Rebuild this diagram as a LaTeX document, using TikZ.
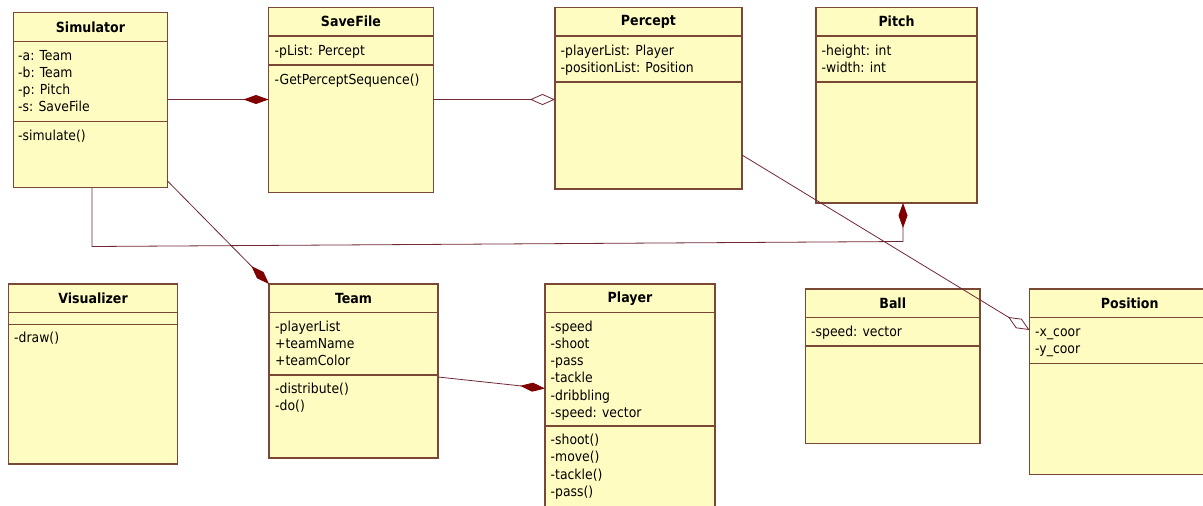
\documentclass[tikz,border=0pt]{standalone}
\usepackage{fontspec}
\setmainfont{DejaVu Sans Condensed}
\usetikzlibrary{arrows.meta}

\definecolor{classfill}{RGB}{255,252,194}
\definecolor{classline}{RGB}{122,72,52}
\definecolor{linkline}{RGB}{112,40,52}
\definecolor{diamondred}{RGB}{128,0,0}

\tikzset{
  classbox/.style={draw=classline, fill=classfill, line width=1.2pt,
    inner sep=0pt, outer sep=0pt, anchor=north west},
  divline/.style={draw=classline, line width=1.2pt},
  titletext/.style={font=\fontsize{14}{16}\selectfont\bfseries, inner sep=0pt},
  membertext/.style={font=\fontsize{13.8}{16}\selectfont, anchor=base west, inner sep=0pt},
  link/.style={draw=linkline, line width=0.8pt},
  composition/.style={link,
    -{Diamond[length=25pt,width=9pt,color=diamondred,fill=diamondred]}},
  aggregation/.style={link,
    -{Diamond[length=25pt,width=11pt,color=linkline,fill=white]}},
}

% class box: name, left, top, right, bottom, first divider, second divider, title
\newcommand{\umlclass}[8]{%
  \node[classbox, minimum width={#4-#2}, minimum height={#5-#3}] (#1) at (#2,#3) {};
  \draw[divline] (#1.west |- 0,#6) -- (#1.east |- 0,#6);
  \draw[divline] (#1.west |- 0,#7) -- (#1.east |- 0,#7);
  \node[titletext] (#1-title) at ({(#2+#4)/2},{(#3+#6)/2}) {#8};
}
% compartment lines: name prefix, x, baseline of first line, list of entries
\newcommand{\umlmembers}[4]{%
  \foreach \entry [count=\k] in {#4} {
    \node[membertext] (#1\k) at (#2,{#3+(\k-1)*17.3}) {\entry};
  }
}

\begin{document}
\begin{tikzpicture}[x=1pt,y=-1pt]
  \clip (0,0) rectangle (1203,506);
  \fill[white] (0,0) rectangle (1203,506);

  % classes
  \umlclass{sim}{13.5}{12.5}{167.5}{187.5}{41.5}{121.5}{Simulator}
  \umlmembers{sim-a}{18}{60}{-a: Team,-b: Team,-p: Pitch,-s: SaveFile}
  \umlmembers{sim-m}{18}{140}{-simulate()}

  \umlclass{save}{268.5}{7.5}{433.5}{192.5}{36}{65}{SaveFile}
  \umlmembers{save-a}{274.5}{55}{-pList: Percept}
  \umlmembers{save-m}{274.5}{84}{-GetPerceptSequence()}

  \umlclass{perc}{555}{7.5}{742}{189}{36}{82}{Percept}
  \umlmembers{perc-a}{560.5}{55}{-playerList: Player,-positionList: Position}

  \umlclass{pitch}{816}{7.5}{977}{203}{36}{82}{Pitch}
  \umlmembers{pitch-a}{821.5}{55}{-height: int,-width: int}

  \umlclass{vis}{8.5}{284}{177.5}{464}{312.5}{324.5}{Visualizer}
  \umlmembers{vis-m}{14}{342.5}{-draw()}

  \umlclass{team}{269}{284}{438}{458}{312.5}{375}{Team}
  \umlmembers{team-a}{275}{331}{-playerList,+teamName,+teamColor}
  \umlmembers{team-m}{275}{393.5}{-distribute(),-do()}

  \umlclass{player}{545}{284}{715}{530}{312.5}{426}{Player}
  \umlmembers{player-a}{550.5}{331}{-speed,-shoot,-pass,-tackle,-dribbling,-speed: vector}
  \umlmembers{player-m}{550.5}{444.5}{-shoot(),-move(),-tackle(),-pass()}

  \umlclass{ball}{805.5}{289}{980}{443.5}{317.5}{346}{Ball}
  \umlmembers{ball-a}{811}{336.5}{-speed: vector}

  \umlclass{pos}{1029.5}{289}{1230}{474.5}{317.5}{363.5}{Position}
  \umlmembers{pos-a}{1035}{336.5}{-x\_coor,-y\_coor}

  % relationships
  \draw[composition] (sim.east |- 0,99.5) -- (save.west |- 0,99.5);
  \draw[aggregation] (save.east |- 0,99.5) -- (perc.west |- 0,99.5);
  \draw[composition] (sim.east |- 0,181) -- (team.north west);
  \draw[composition] (team.east |- 0,377) -- (player.west |- 0,388.5);
  \draw[composition] (sim.south -| 92,0) -- (92,246.5) -- (903,241.5) -- (pitch.south -| 903,0);
  \draw[aggregation] (perc.east |- 0,155) -- (pos.west |- 0,330);
\end{tikzpicture}
\end{document}
